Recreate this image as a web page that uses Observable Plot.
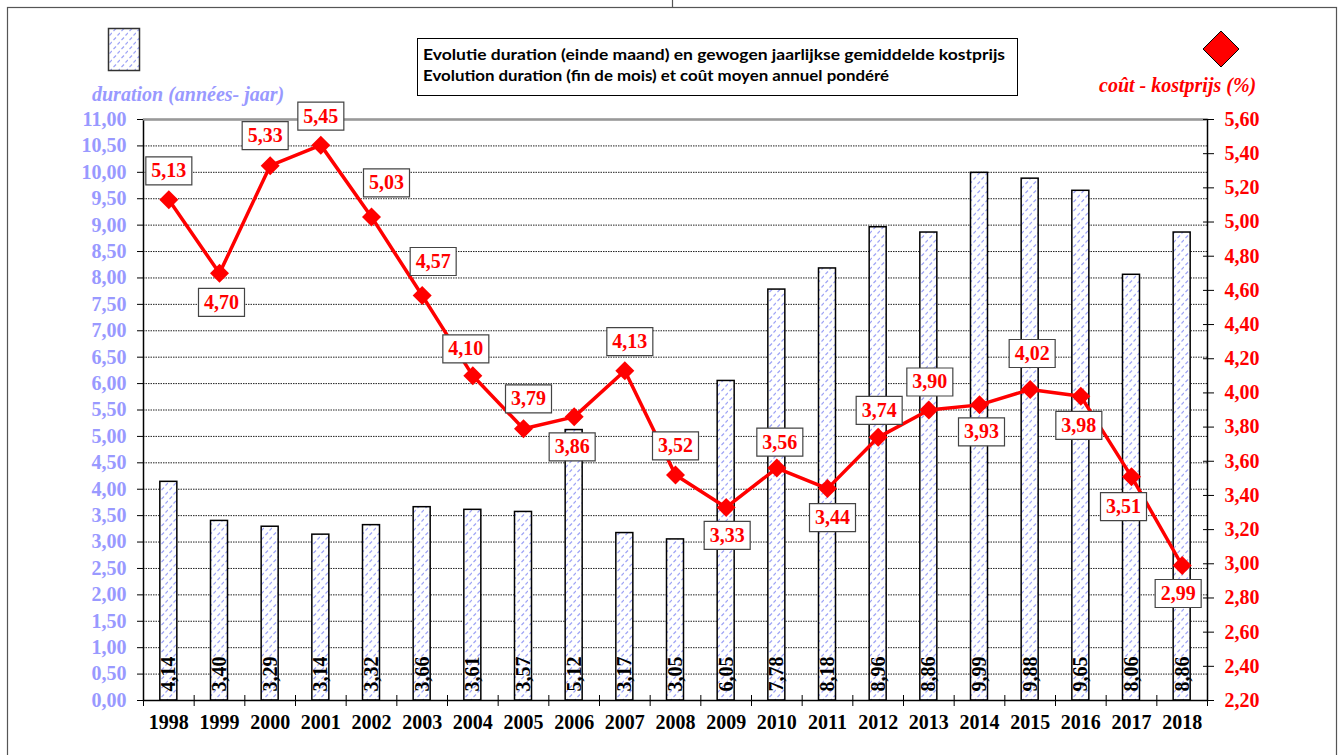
<!DOCTYPE html>
<html><head><meta charset="utf-8">
<script src="https://cdn.jsdelivr.net/npm/d3@7"></script>
<script src="https://cdn.jsdelivr.net/npm/@observablehq/plot@0.6"></script>
<style>
html,body{margin:0;padding:0;background:#fff;}
#wrap{position:relative;width:1340px;height:755px;overflow:hidden;background:#fff;}
#wrap > *{position:absolute;left:0;top:0;}
.ttl{font-family:"Liberation Serif","Times New Roman",serif;font-weight:bold;font-style:italic;font-size:20px;white-space:nowrap;line-height:1;}
</style></head><body><div id="wrap"></div>
<script>
// ---- data ----
const years = ["1998","1999","2000","2001","2002","2003","2004","2005","2006","2007","2008","2009","2010","2011","2012","2013","2014","2015","2016","2017","2018"];
const duration = [4.14,3.40,3.29,3.14,3.32,3.66,3.61,3.57,5.12,3.17,3.05,6.05,7.78,8.18,8.96,8.86,9.99,9.88,9.65,8.06,8.86];
const cost = [5.13,4.70,5.33,5.45,5.03,4.57,4.10,3.79,3.86,4.13,3.52,3.33,3.56,3.44,3.74,3.90,3.93,4.02,3.98,3.51,2.99];
const durationTicks = [0,0.5,1,1.5,2,2.5,3,3.5,4,4.5,5,5.5,6,6.5,7,7.5,8,8.5,9,9.5,10,10.5,11];
const costTicks = [2.2,2.4,2.6,2.8,3.0,3.2,3.4,3.6,3.8,4.0,4.2,4.4,4.6,4.8,5.0,5.2,5.4,5.6];
const titleLines = ["Evolutie duration (einde maand) en gewogen jaarlijkse gemiddelde kostprijs",
                    "Evolution duration (fin de mois) et coût moyen annuel pondéré"];
const leftTitle = "duration (années- jaar)";
const rightTitle = "coût - kostprijs (%)";

// label placement (pixel nudges for the value boxes), layout only
const labelPlacement = [[0,-29],[2,29],[-5,-30],[0,-29],[15,-34],[11,-34],[-7,-27],[5,-30],[-2,30],[5,-29],[0,-29],[1,28],[3,-26],[5,29],[1,-27],[1,-28],[2,27],[2,-36],[-2,29],[-8,30],[-4,28]];

// ---- helpers ----
const costMin = costTicks[0], costMax = costTicks[costTicks.length-1];
const durMax = durationTicks[durationTicks.length-1];
const costToDur = c => (c - costMin) / (costMax - costMin) * durMax;
const durToCost = v => costMin + v / durMax * (costMax - costMin);
const fmt = v => v.toFixed(2).replace(".", ",");
const data = years.map((y,i) => ({year:y, duration:duration[i], cost:cost[i], costY:costToDur(cost[i])}));

const W=1340, H=755, mL=143, mR=133, mT=119, mB=55;
const band = (W-mL-mR)/years.length;
const barW = 17;
const serif = "Liberation Serif, Times New Roman, serif";
const FS = 20;

const diamond = {draw(ctx){ const h=9.5; ctx.moveTo(0,-h); ctx.lineTo(h,0); ctx.lineTo(0,h); ctx.lineTo(-h,0); ctx.closePath(); }};
const boxSym = {draw(ctx){ const w=46,h=28; ctx.rect(-w/2,-h/2,w,h); }};

// ---- overlay (frame, title box, legends) ----
const wrap = document.getElementById("wrap");
const ns = "http://www.w3.org/2000/svg";
const ov = document.createElementNS(ns, "svg");
ov.setAttribute("width", W); ov.setAttribute("height", H);
ov.innerHTML = `
<defs>
 <pattern id="hatch" width="8" height="9" patternUnits="userSpaceOnUse">
  <rect width="8" height="9" fill="white"/>
  <path d="M1.5,4 L4,1.5 M5.5,8.5 L8,6" stroke="#9ea4f6" stroke-width="1.2"/>
 </pattern>
</defs>
<rect x="7.5" y="7.5" width="1329" height="800" fill="none" stroke="#555" stroke-width="1.2"/>
<line x1="672.5" y1="0" x2="672.5" y2="7" stroke="#555" stroke-width="1.2"/>
<rect x="417.5" y="38.5" width="600" height="57" fill="white" stroke="black" stroke-width="1"/>
<text x="423" y="60" font-family="Lato, Open Sans, sans-serif" font-weight="bold" font-size="15" textLength="582" lengthAdjust="spacingAndGlyphs">${titleLines[0]}</text>
<text x="423" y="81" font-family="Lato, Open Sans, sans-serif" font-weight="bold" font-size="15" textLength="466" lengthAdjust="spacingAndGlyphs">${titleLines[1]}</text>
<rect x="108.5" y="28.5" width="31" height="42" fill="url(#hatch)" stroke="#333" stroke-width="1.5"/>
<path d="M1221,31 L1239,49 L1221,67 L1203,49 Z" fill="red" stroke="black" stroke-width="1"/>
`;
wrap.appendChild(ov);

const lt = document.createElement("div");
lt.className = "ttl"; lt.textContent = leftTitle;
lt.style.cssText = "left:92px;top:84px;color:#9999ff;";
wrap.appendChild(lt);
const rt = document.createElement("div");
rt.className = "ttl"; rt.textContent = rightTitle;
rt.style.cssText = "left:1099px;top:75px;color:red;";
wrap.appendChild(rt);

// ---- chart ----
const labelMarks = [];
data.forEach((d,i) => {
  const [dx,dy] = labelPlacement[i];
  labelMarks.push(Plot.dot([d], {x:"year", y:"costY", symbol:boxSym, r:5, fill:"white", stroke:"#444", strokeWidth:1.2, dx, dy}));
  labelMarks.push(Plot.text([d], {x:"year", y:"costY", text:v=>fmt(v.cost), dx, dy, fill:"red", fontSize:FS, fontWeight:"bold", fontFamily:serif}));
});

const chart = Plot.plot({
  width:W, height:H, marginLeft:mL, marginRight:mR, marginTop:mT, marginBottom:mB,
  x:{type:"band", domain:years, padding:0, round:false, axis:null},
  y:{domain:[0,durMax], axis:null},
  style:{background:"transparent", overflow:"visible"},
  marks:[
    Plot.gridY(durationTicks, {stroke:"#222", strokeOpacity:1, strokeWidth:1, strokeDasharray:"1.5,1"}),
    Plot.barY(data, {x:"year", y:"duration", fill:"url(#hatch)", stroke:"black", strokeWidth:1.5, insetLeft:(band-barW)/2, insetRight:(band-barW)/2}),
    Plot.text(data, {x:"year", y:0, text:d=>fmt(d.duration), rotate:-90, textAnchor:"start", dy:-9, fill:"black", fontSize:FS, fontWeight:"bold", fontFamily:serif}),
    Plot.frame({stroke:"black", strokeWidth:1.5}),
    Plot.ruleY([durMax], {stroke:"#999", strokeWidth:2}),
    // left axis
    Plot.axisY(durationTicks, {anchor:"left", tickSize:6, tickFormat:()=>"", color:"black", label:null}),
    Plot.axisY(durationTicks, {anchor:"left", tickSize:0, tickPadding:17, tickFormat:fmt, color:"#9999ff", fontSize:FS, fontWeight:"bold", fontFamily:serif, label:null}),
    // right axis
    Plot.axisY(costTicks.map(costToDur), {anchor:"right", tickSize:11, dx:-5, tickFormat:()=>"", color:"black", label:null}),
    Plot.axisY(costTicks.map(costToDur), {anchor:"right", tickSize:0, tickPadding:17, tickFormat:v=>fmt(durToCost(v)), color:"red", fontSize:FS, fontWeight:"bold", fontFamily:serif, label:null}),
    // bottom axis
    Plot.axisX({anchor:"bottom", tickSize:11, dy:-5, dx:-band/2, tickFormat:()=>"", color:"black", label:null}),
    Plot.axisX([years[years.length-1]], {anchor:"bottom", tickSize:11, dy:-5, dx:band/2, tickFormat:()=>"", color:"black", label:null}),
    Plot.axisX({anchor:"bottom", tickSize:0, tickPadding:14, color:"black", fontSize:FS, fontWeight:"bold", fontFamily:serif, label:null}),
    // cost line
    Plot.line(data, {x:"year", y:"costY", stroke:"red", strokeWidth:3.5}),
    Plot.dot(data, {x:"year", y:"costY", symbol:diamond, r:5, fill:"red"}),
    ...labelMarks
  ]
});
wrap.appendChild(chart);
</script></body></html>
